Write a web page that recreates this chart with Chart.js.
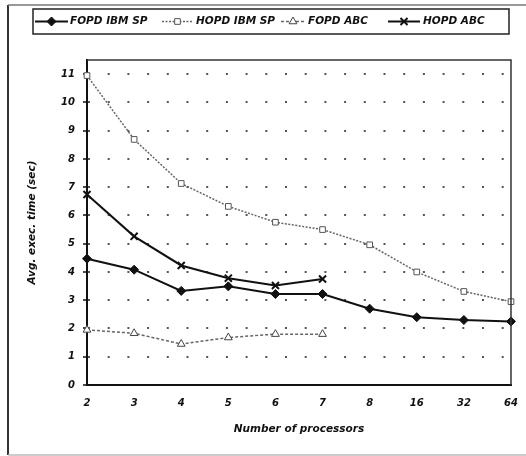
<!DOCTYPE html>
<html>
<head>
<meta charset="utf-8">
<script src="https://cdn.jsdelivr.net/npm/chart.js@4.4.1/dist/chart.umd.min.js"></script>
<style>
  html, body { margin: 0; padding: 0; background: #fff; }
  #wrap { position: relative; width: 526px; height: 456px; }
</style>
</head>
<body>
<div id="wrap"><canvas id="chart" width="526" height="456"></canvas></div>
<script>
const processors = ['2', '3', '4', '5', '6', '7', '8', '16', '32', '64'];
const yTicks = [0, 1, 2, 3, 4, 5, 6, 7, 8, 9, 10, 11];

const fopdIbmSp = [4.47, 4.08, 3.33, 3.49, 3.22, 3.22, 2.70, 2.40, 2.30, 2.25];
const hopdIbmSp = [10.95, 8.69, 7.13, 6.32, 5.76, 5.50, 4.96, 4.00, 3.31, 2.95];
const fopdAbc = [1.95, 1.83, 1.45, 1.68, 1.80, 1.80, null, null, null, null];
const hopdAbc = [6.74, 5.26, 4.23, 3.78, 3.52, 3.75, null, null, null, null];

const FONT = '"DejaVu Sans", sans-serif';

// where each legend sample starts / its length / where the label starts
const legendSlots = [[35, 33, 70], [162, 31, 196], [281, 24, 308], [388, 32, 423]];

// outer frame, plot border and the boxed legend
const framePlugin = {
  id: 'frame',
  beforeDraw(chart) {
    const c = chart.ctx;
    c.save();
    c.fillStyle = '#fff';
    c.fillRect(0, 0, chart.width, chart.height);
    c.strokeStyle = '#333';
    c.lineWidth = 2;
    c.beginPath(); c.moveTo(8, 5); c.lineTo(8, 455); c.stroke();
    c.strokeStyle = '#777';
    c.lineWidth = 1.5;
    c.beginPath(); c.moveTo(8, 5); c.lineTo(526, 5); c.stroke();
    c.strokeStyle = '#bbb';
    c.beginPath(); c.moveTo(8, 455); c.lineTo(526, 455); c.stroke();
    c.restore();
  },
  afterDatasetsDraw(chart) {
    const c = chart.ctx;
    const a = chart.chartArea;
    c.save();
    c.strokeStyle = '#333';
    c.lineWidth = 1.5;
    c.beginPath();
    c.moveTo(a.left, a.top);
    c.lineTo(a.right, a.top);
    c.lineTo(a.right, a.bottom);
    c.stroke();
    c.restore();
  },
  afterDraw(chart) {
    const c = chart.ctx;
    c.save();
    c.strokeStyle = '#222';
    c.lineWidth = 1.5;
    c.strokeRect(33, 9, 476, 25);
    c.font = 'italic bold 10.5px ' + FONT;
    c.textBaseline = 'middle';
    const y = 21.5;
    chart.data.datasets.forEach((ds, i) => {
      const [x, w, tx] = legendSlots[i];
      c.strokeStyle = ds.borderColor;
      c.lineWidth = ds.borderWidth;
      c.setLineDash(ds.borderDash || []);
      c.beginPath(); c.moveTo(x, y); c.lineTo(x + w, y); c.stroke();
      c.setLineDash([]);
      c.fillStyle = ds.pointBackgroundColor;
      c.strokeStyle = ds.pointBorderColor;
      c.lineWidth = ds.pointBorderWidth;
      Chart.helpers.drawPoint(c, {pointStyle: ds.pointStyle, radius: ds.pointRadius, borderWidth: ds.pointBorderWidth}, x + w / 2, y);
      c.fillStyle = '#111';
      c.fillText(ds.label, tx, y);
    });
    c.restore();
  }
};

new Chart(document.getElementById('chart'), {
  type: 'line',
  data: {
    labels: processors,
    datasets: [
      {
        label: 'FOPD IBM SP',
        data: fopdIbmSp,
        borderColor: '#111',
        borderWidth: 2,
        pointStyle: 'rectRot',
        pointRadius: 4.5,
        pointBackgroundColor: '#111',
        pointBorderColor: '#111',
        pointBorderWidth: 1
      },
      {
        label: 'HOPD IBM SP',
        data: hopdIbmSp,
        borderColor: '#666',
        borderWidth: 1.5,
        borderDash: [2, 1.5],
        pointStyle: 'rect',
        pointRadius: 4,
        pointBackgroundColor: '#fff',
        pointBorderColor: '#555',
        pointBorderWidth: 1
      },
      {
        label: 'FOPD ABC',
        data: fopdAbc,
        borderColor: '#666',
        borderWidth: 1.5,
        borderDash: [3, 2],
        pointStyle: 'triangle',
        pointRadius: 4.5,
        pointBackgroundColor: '#fff',
        pointBorderColor: '#444',
        pointBorderWidth: 1
      },
      {
        label: 'HOPD ABC',
        data: hopdAbc,
        borderColor: '#111',
        borderWidth: 2,
        pointStyle: 'crossRot',
        pointRadius: 5,
        pointBackgroundColor: '#111',
        pointBorderColor: '#111',
        pointBorderWidth: 2
      }
    ]
  },
  options: {
    responsive: false,
    animation: false,
    spanGaps: false,
    layout: { padding: { top: 60, left: 0, right: 15, bottom: 20 } },
    plugins: {
      legend: { display: false },
      tooltip: { enabled: false }
    },
    scales: {
      x: {
        type: 'category',
        offset: false,
        afterFit: (s) => { s.height = 51; s.paddingLeft = 0; s.paddingRight = 0; },
        grid: { display: false, drawTicks: false, tickLength: 0 },
        border: { display: true, color: '#111', width: 2 },
        ticks: {
          padding: 12,
          color: '#111',
          font: { family: FONT, size: 10, style: 'italic', weight: 'bold' }
        },
        title: {
          display: true,
          text: 'Number of processors',
          color: '#111',
          padding: { top: 2, bottom: 0 },
          font: { family: FONT, size: 10.5, style: 'italic', weight: 'bold' }
        }
      },
      y: {
        min: 0,
        max: 11.5,
        afterFit: (s) => { s.width = 87; s.paddingTop = 0; s.paddingBottom = 0; },
        afterBuildTicks: (s) => { s.ticks = yTicks.map(v => ({ value: v })); },
        grid: {
          color: '#555',
          lineWidth: 2,
          tickColor: '#111',
          tickLength: 4,
          tickWidth: 1.5
        },
        border: { display: true, color: '#111', width: 2, dash: [2, 17.7], dashOffset: 0 },
        ticks: {
          padding: 8,
          color: '#111',
          font: { family: FONT, size: 10, style: 'italic', weight: 'bold' }
        },
        title: {
          display: true,
          text: 'Avg. exec. time (sec)',
          color: '#111',
          padding: { top: 26, bottom: 0 },
          font: { family: FONT, size: 10.5, style: 'italic', weight: 'bold' }
        }
      }
    }
  },
  plugins: [framePlugin]
});
</script>
</body>
</html>
